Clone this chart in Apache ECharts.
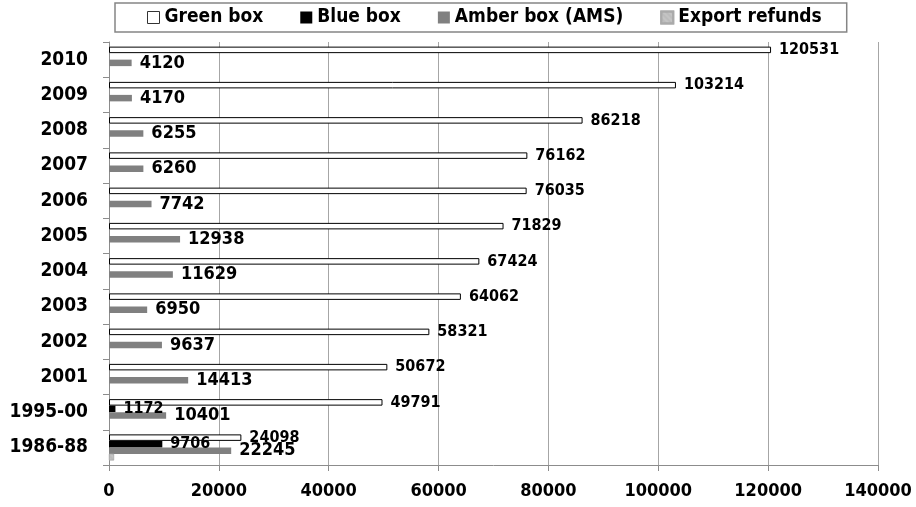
<!DOCTYPE html>
<html>
<head>
<meta charset="utf-8">
<script src="https://cdn.jsdelivr.net/npm/echarts@6/dist/echarts.min.js"></script>
<style>
  html, body { margin: 0; padding: 0; background: #fff; }
  #chart { width: 916px; height: 507px; }
</style>
</head>
<body>
<div id="chart"></div>
<script>
// Domestic support by box, bottom period first
const periods = ['1986-88', '1995-00', '2001', '2002', '2003', '2004', '2005', '2006', '2007', '2008', '2009', '2010'];
const greenBox = [24098, 49791, 50672, 58321, 64062, 67424, 71829, 76035, 76162, 86218, 103214, 120531];
const blueBox = [9706, 1172, null, null, null, null, null, null, null, null, null, null];
const amberBox = [22245, 10401, 14413, 9637, 6950, 11629, 12938, 7742, 6260, 6255, 4170, 4120];
const exportRefunds = [900, null, null, null, null, null, null, null, null, null, null, null];
const seriesNames = ['Green box', 'Blue box', 'Amber box (AMS)', 'Export refunds'];

const FONT = "'DejaVu Sans Condensed', 'Liberation Sans', sans-serif";

const chart = echarts.init(document.getElementById('chart'), null, { renderer: 'canvas' });

function labelStyle(size) {
  return {
    show: true,
    position: 'right',
    distance: 8,
    color: '#000',
    fontFamily: FONT,
    fontWeight: 'bold',
    fontSize: size
  };
}

chart.setOption({
  animation: false,
  backgroundColor: '#fff',
  legend: {
    data: [
      { name: seriesNames[0], itemStyle: { color: '#fff', borderColor: '#333', borderWidth: 1 } },
      seriesNames[1],
      seriesNames[2],
      seriesNames[3]
    ],
    left: 115,
    top: 3,
    padding: [5, 25, 5, 32],
    itemGap: 37,
    itemWidth: 12,
    itemHeight: 12,
    icon: 'rect',
    borderColor: '#858585',
    borderWidth: 1.5,
    textStyle: { fontFamily: FONT, fontWeight: 'bold', fontSize: 19, color: '#000' }
  },
  grid: { left: 109, right: 38, top: 42, bottom: 42 },
  xAxis: {
    type: 'value',
    min: 0,
    max: 140000,
    interval: 20000,
    axisLine: { show: true, lineStyle: { color: '#8c8c8c', width: 1 } },
    axisTick: { show: true, length: 6, lineStyle: { color: '#8c8c8c' } },
    splitLine: { show: true, lineStyle: { color: '#a6a6a6', width: 1 } },
    axisLabel: {
      margin: 17, color: '#000', fontFamily: FONT, fontWeight: 'bold', fontSize: 18,
      formatter: v => String(v)
    }
  },
  yAxis: {
    type: 'category',
    data: periods,
    axisLine: { show: true, lineStyle: { color: '#8c8c8c', width: 1 } },
    axisTick: { show: true, length: 6, lineStyle: { color: '#8c8c8c' } },
    axisLabel: { margin: 21, color: '#000', fontFamily: FONT, fontWeight: 'bold', fontSize: 19 }
  },
  series: [
    {
      name: 'Green box', type: 'bar', data: greenBox, barWidth: 6.5, barGap: '0%',
      itemStyle: { color: '#fff', borderColor: '#000', borderWidth: 1 },
      label: labelStyle(16)
    },
    {
      name: 'Blue box', type: 'bar', data: blueBox, barWidth: 6.5, barGap: '0%',
      itemStyle: { color: '#000' },
      label: labelStyle(16)
    },
    {
      name: 'Amber box (AMS)', type: 'bar', data: amberBox, barWidth: 6.5, barGap: '0%',
      itemStyle: { color: '#808080' },
      label: labelStyle(18)
    },
    {
      name: 'Export refunds', type: 'bar', data: exportRefunds, barWidth: 6.5, barGap: '0%',
      itemStyle: {
        color: '#c4c4c4', borderColor: '#aaaaaa', borderWidth: 0.5,
        decal: { symbol: 'rect', symbolSize: 0.6, color: 'rgba(140,140,140,0.45)', dashArrayX: [1, 0], dashArrayY: [2, 2], rotation: Math.PI / 4 }
      }
    }
  ]
});
</script>
</body>
</html>
